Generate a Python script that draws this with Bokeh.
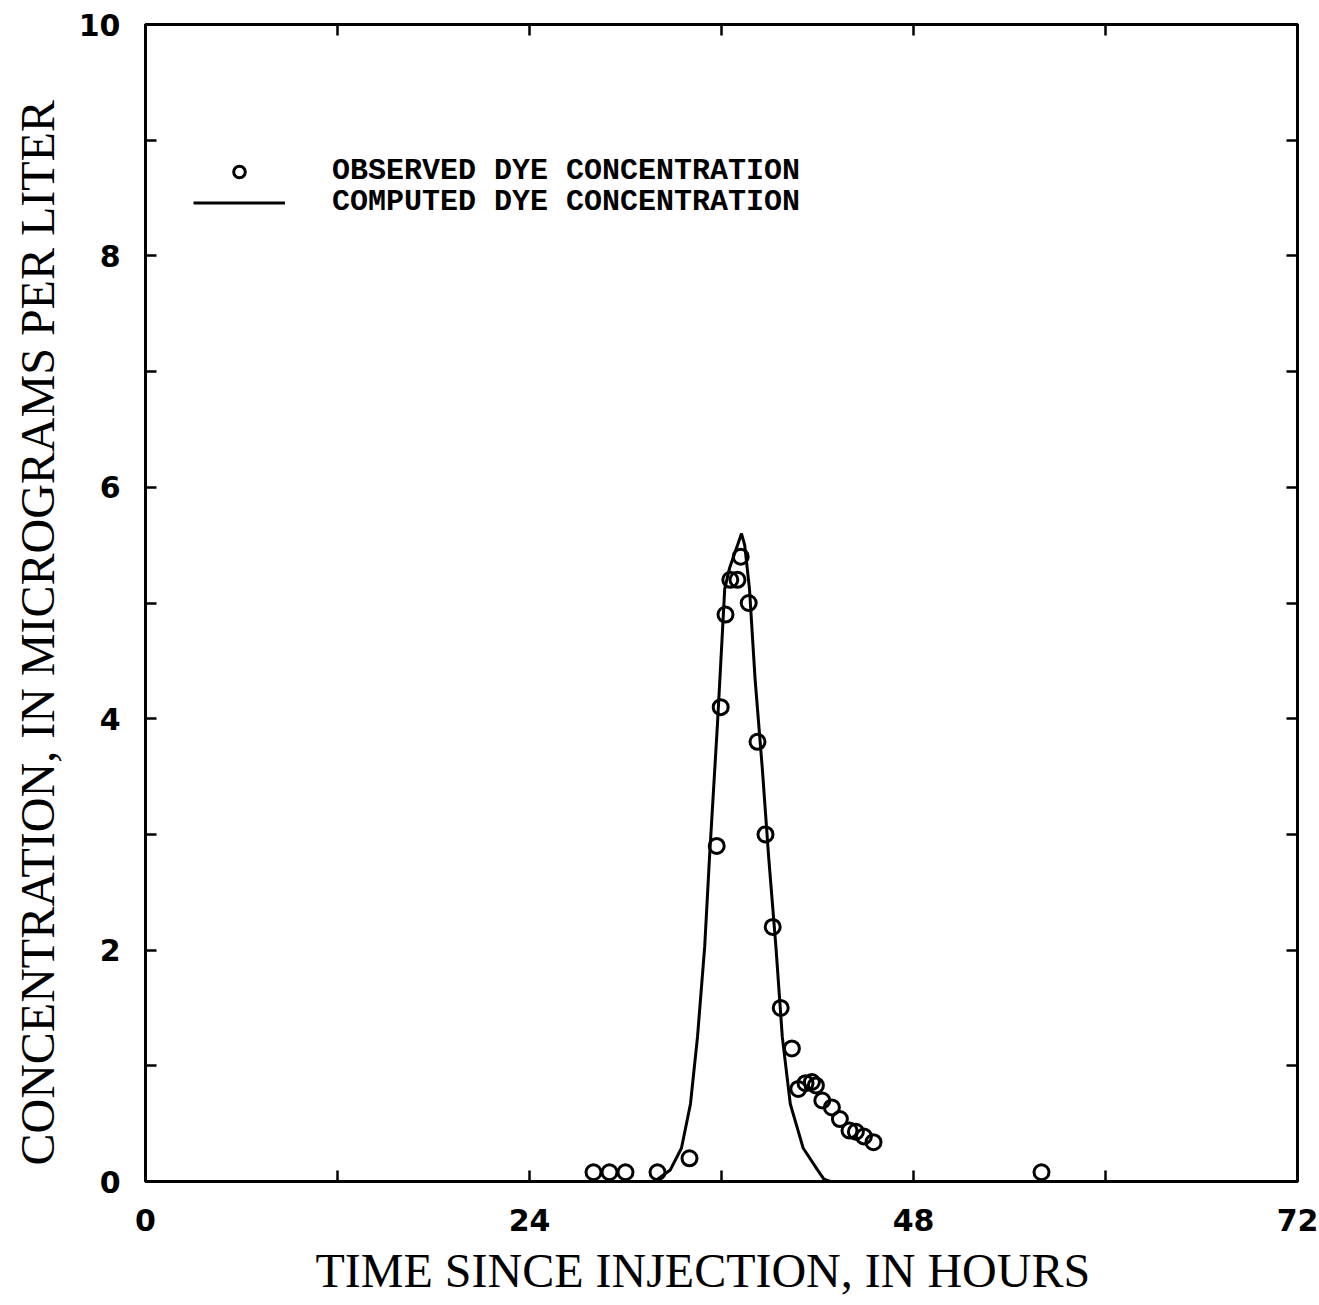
from bokeh.plotting import figure
from bokeh.models import FixedTicker, LinearAxis, Range1d, Legend, LegendItem, Title
from bokeh.embed import file_html
from bokeh.resources import INLINE

# observed dye concentration (hours, micrograms per liter)
obs_t = [28.0, 29.0, 30.0, 32.0, 34.0, 35.7, 35.95, 36.25, 36.55, 37.0, 37.2, 37.7,
         38.25, 38.75, 39.2, 39.7, 40.4, 40.8, 41.25, 41.65, 41.9, 42.3, 42.9, 43.4,
         44.0, 44.4, 44.9, 45.5, 56.0]
obs_c = [0.08, 0.08, 0.08, 0.08, 0.2, 2.9, 4.1, 4.9, 5.2, 5.2, 5.4, 5.0,
         3.8, 3.0, 2.2, 1.5, 1.15, 0.8, 0.85, 0.86, 0.83, 0.7, 0.64, 0.54,
         0.44, 0.43, 0.39, 0.34, 0.08]

# computed dye concentration
comp_t = [31.8, 32.0, 32.8, 33.5, 34.06, 34.5, 34.95, 35.25, 35.75, 36.05, 36.2, 36.5,
          37.0, 37.25, 37.45, 37.75, 38.1, 38.55, 38.95, 39.4, 39.8, 40.3, 41.1, 42.0,
          42.4, 42.8]
comp_c = [0.0, 0.02, 0.1, 0.29, 0.67, 1.25, 2.03, 2.8, 3.96, 4.73, 5.12, 5.3,
          5.5, 5.6, 5.5, 5.12, 4.34, 3.57, 2.8, 2.03, 1.25, 0.67, 0.29, 0.1,
          0.02, 0.0]

x_major = [0, 24, 48, 72]
x_minor = [12, 36, 60]
y_major = [0, 2, 4, 6, 8, 10]
y_minor = [1, 3, 5, 7, 9]

x_title = "TIME SINCE INJECTION, IN HOURS"
y_title = "CONCENTRATION, IN MICROGRAMS PER LITER"
legend_labels = ["OBSERVED DYE CONCENTRATION", "COMPUTED DYE CONCENTRATION"]

p = figure(width=1319, height=1305, output_backend="svg", toolbar_location=None,
           x_range=Range1d(0, 72), y_range=Range1d(0, 10),
           min_border_left=145, min_border_right=22, min_border_top=24,
           min_border_bottom=124, x_axis_location=None, y_axis_location=None)
p.xgrid.visible = False
p.ygrid.visible = False
p.outline_line_color = "black"
p.outline_line_width = 3
p.background_fill_color = "white"
p.border_fill_color = "white"

tick_font = "DejaVu Sans"
title_font = "Liberation Serif"

def make_axis(ticker, labels, where):
    ax = LinearAxis(ticker=ticker)
    ax.axis_line_color = "black"
    ax.axis_line_width = 3
    ax.major_tick_in = 11
    ax.major_tick_out = 0
    ax.minor_tick_in = 11
    ax.minor_tick_out = 0
    ax.major_tick_line_width = 2.5
    ax.minor_tick_line_width = 2.5
    if labels:
        ax.major_label_text_font = tick_font
        ax.major_label_text_font_style = "bold"
        ax.major_label_text_font_size = "30px"
        ax.major_label_text_color = "black"
    else:
        ax.major_label_text_font_size = "0px"
        ax.major_label_text_alpha = 0
        ax.major_label_standoff = 0
    p.add_layout(ax, where)
    return ax

xb = make_axis(FixedTicker(ticks=x_major, minor_ticks=x_minor), True, "below")
xb.major_label_standoff = 27

yl = make_axis(FixedTicker(ticks=y_major, minor_ticks=y_minor), True, "left")
yl.major_label_standoff = 25

make_axis(FixedTicker(ticks=x_major, minor_ticks=x_minor), False, "above")
make_axis(FixedTicker(ticks=y_major, minor_ticks=y_minor), False, "right")

tx = Title(text=x_title, align="left", offset=170, standoff=17,
           text_font=title_font, text_font_style="normal",
           text_font_size="48px", text_color="black")
p.add_layout(tx, "below")
ty = Title(text=y_title, align="left", offset=16, standoff=20, vertical_align="top",
           text_font=title_font, text_font_style="normal",
           text_font_size="48px", text_color="black")
p.add_layout(ty, "left")

r_line = p.line(comp_t, comp_c, line_color="black", line_width=3)
r_obs = p.scatter(obs_t, obs_c, marker="circle", size=15, fill_color=None,
                  line_color="black", line_width=3)

def make_legend(label, renderer, y):
    lg = Legend(items=[LegendItem(label=label, renderers=[renderer])],
                location=(48, y), orientation="vertical")
    lg.glyph_width = 92
    lg.glyph_height = 29
    lg.label_height = 29
    lg.label_standoff = 47
    lg.spacing = 0
    lg.padding = 0
    lg.margin = 0
    lg.border_line_color = None
    lg.background_fill_alpha = 0
    lg.label_text_font = "Liberation Mono"
    lg.label_text_font_style = "bold"
    lg.label_text_font_size = "30px"
    lg.label_text_color = "black"
    lg.label_text_baseline = "middle"
    p.add_layout(lg, "center")

make_legend(legend_labels[0], r_obs, 993)
make_legend(legend_labels[1], r_line, 962)

open("out.html", "w").write(file_html(p, INLINE))
